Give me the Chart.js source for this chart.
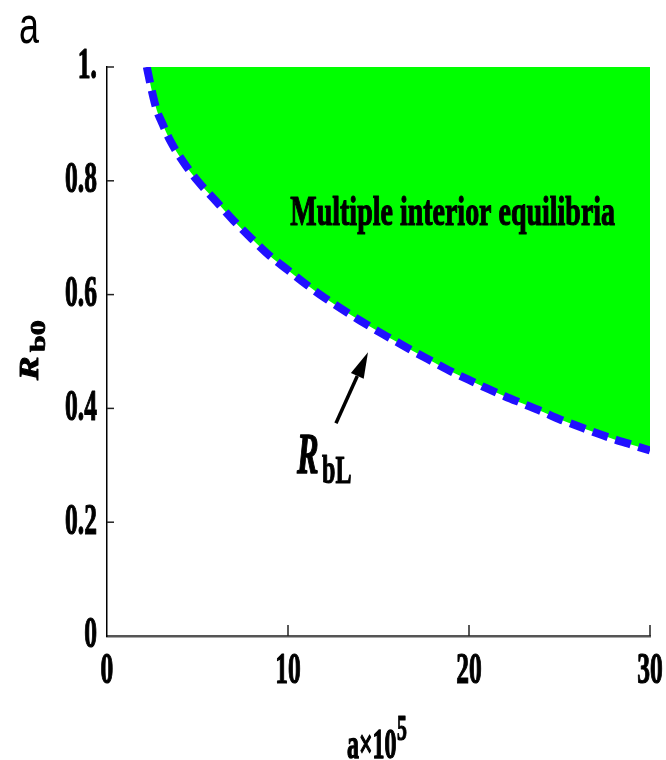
<!DOCTYPE html>
<html>
<head>
<meta charset="utf-8">
<script src="https://cdn.jsdelivr.net/npm/chart.js@4"></script>
<style>
  body { margin: 0; background: #fff; }
  canvas { display: block; }
</style>
</head>
<body>
<canvas id="regionChart" width="666" height="760"></canvas>
<script>
// values (a x 10^5 vs R_bL boundary)
const aValues = [2.2, 2.5, 2.75, 3, 3.5, 4.2, 5, 6, 7, 8, 9, 10, 11, 12, 13, 14, 15, 16, 17, 18, 19, 20, 21, 22, 23, 24, 25, 26, 27, 28, 29, 30];
const rbL = [1.0, 0.955, 0.924, 0.905, 0.870, 0.834, 0.800, 0.765, 0.730, 0.698, 0.668, 0.643, 0.618, 0.595, 0.574, 0.554, 0.535, 0.517, 0.499, 0.482, 0.465, 0.450, 0.435, 0.421, 0.408, 0.395, 0.381, 0.369, 0.357, 0.346, 0.336, 0.326];
const xTickLabels = ['0', '10', '20', '30'];
const yTickLabels = ['0', '0.2', '0.4', '0.6', '0.8', '1.'];

const SERIF = '"Liberation Serif", "Times New Roman", serif';

// text squeezed horizontally like the original figure; heavy = extra stroke
function txt(ctx, s, x, y, font, sx, sy, align, base, heavy) {
    ctx.save();
    ctx.translate(x, y);
    ctx.scale(sx, sy);
    ctx.font = font;
    ctx.textAlign = align || 'left';
    ctx.textBaseline = base || 'alphabetic';
    ctx.fillText(s, 0, 0);
    if (heavy) {
        ctx.lineWidth = heavy;
        ctx.lineJoin = 'round';
        ctx.strokeStyle = ctx.fillStyle;
        ctx.strokeText(s, 0, 0);
    }
    ctx.restore();
}

function seg(ctx, x1, y1, x2, y2) {
    ctx.beginPath();
    ctx.moveTo(x1, y1);
    ctx.lineTo(x2, y2);
    ctx.stroke();
}

// ticks pointing inward, tick labels, titles and the arrow annotation
const decor = {
    id: 'decor',
    afterDraw(chart) {
        const ctx = chart.ctx;
        const x = chart.scales.x, y = chart.scales.y;
        ctx.save();
        ctx.strokeStyle = '#222';
        ctx.lineWidth = 1.5;
        y.ticks.forEach(t => {
            if (t.value === 0) return;
            const py = y.getPixelForValue(t.value);
            seg(ctx, x.left, py, x.left + 7, py);
        });
        x.ticks.forEach(t => {
            if (t.value === 0) return;
            const px = x.getPixelForValue(t.value);
            seg(ctx, px, y.bottom, px, y.bottom - 11);
        });

        ctx.fillStyle = '#000';
        const tickFont = 'bold 44px ' + SERIF;
        y.ticks.forEach(t => {
            txt(ctx, t.label, x.left - 10, y.getPixelForValue(t.value), tickFont, 0.58, 1, 'right', 'middle', 1.2);
        });
        x.ticks.forEach(t => {
            txt(ctx, t.label, x.getPixelForValue(t.value), y.bottom + 47, tickFont, 0.58, 1, 'center', 'alphabetic', 1.2);
        });

        // x axis title: a×10^5
        txt(ctx, 'a\u00d710', 347, 758, 'bold 42px ' + SERIF, 0.57, 1, 'left', 'alphabetic', 1.4);
        txt(ctx, '5', 397, 740, 'bold 36px ' + SERIF, 0.55, 1, 'left', 'alphabetic', 1.2);

        // y axis title: R_b0 (rotated)
        ctx.save();
        ctx.translate(38, 380);
        ctx.rotate(-Math.PI / 2);
        txt(ctx, 'R', 0, 0, 'italic bold 28px ' + SERIF, 1.26, 1, 'left', 'alphabetic', 1);
        txt(ctx, 'b0', 28, 7, 'bold 20px ' + SERIF, 1.5, 1, 'left', 'alphabetic', 0.8);
        ctx.restore();

        // panel letter
        txt(ctx, 'a', 19, 43, '52px "Liberation Sans", Arial, sans-serif', 0.69, 1, 'left');

        // region label
        txt(ctx, 'Multiple interior equilibria', x.getPixelForValue(19.1), y.getPixelForValue(0.722),
            'bold 42px ' + SERIF, 0.666, 1, 'center', 'alphabetic', 1.2);

        // curve label R_bL
        const lx = x.getPixelForValue(10.5), ly = y.getPixelForValue(0.2865);
        txt(ctx, 'R', lx, ly, 'italic bold 56px ' + SERIF, 0.58, 1, 'left', 'alphabetic', 1.4);
        txt(ctx, 'bL', lx + 25, ly + 10, 'bold 40px ' + SERIF, 0.6, 1, 'left', 'alphabetic', 1.2);

        // arrow pointing at the curve
        const x0 = x.getPixelForValue(12.65), y0 = y.getPixelForValue(0.374);
        const x1 = x.getPixelForValue(14.42), y1 = y.getPixelForValue(0.4987);
        const ang = Math.atan2(y1 - y0, x1 - x0);
        const hl = 26, hw = 7;
        const bx = x1 - hl * Math.cos(ang), by = y1 - hl * Math.sin(ang);
        ctx.strokeStyle = '#000';
        ctx.lineWidth = 3.5;
        seg(ctx, x0, y0, bx, by);
        ctx.beginPath();
        ctx.moveTo(x1, y1);
        ctx.lineTo(bx + hw * Math.sin(ang), by - hw * Math.cos(ang));
        ctx.lineTo(bx - hw * Math.sin(ang), by + hw * Math.cos(ang));
        ctx.closePath();
        ctx.fill();
        ctx.restore();
    }
};

const ctx_region = document.getElementById('regionChart').getContext('2d');
const regionChart = new Chart(ctx_region, {
    type: 'line',
    data: {
        datasets: [{
            label: 'R_bL',
            data: aValues.map((a, i) => ({ x: a, y: rbL[i] })),
            borderColor: '#2010ff',
            borderWidth: 8,
            borderDash: [16, 8],
            backgroundColor: '#00ff00',
            fill: 'end',
            pointRadius: 0,
            cubicInterpolationMode: 'monotone'
        }]
    },
    options: {
        responsive: false,
        animation: false,
        layout: { padding: { left: 107, right: 16, top: 67, bottom: 124 } },
        scales: {
            x: {
                type: 'linear',
                min: 0,
                max: 30,
                ticks: {
                    display: false,
                    stepSize: 10,
                    callback: (v, i) => xTickLabels[i]
                },
                grid: { display: false, drawTicks: false },
                border: { display: true, color: '#555', width: 2.5 }
            },
            y: {
                min: 0,
                max: 1,
                ticks: {
                    display: false,
                    stepSize: 0.2,
                    callback: (v, i) => yTickLabels[i]
                },
                grid: { display: false, drawTicks: false },
                border: { display: true, color: '#000', width: 1.5 }
            }
        },
        plugins: {
            legend: { display: false },
            tooltip: { enabled: false }
        }
    },
    plugins: [decor]
});
</script>
</body>
</html>
